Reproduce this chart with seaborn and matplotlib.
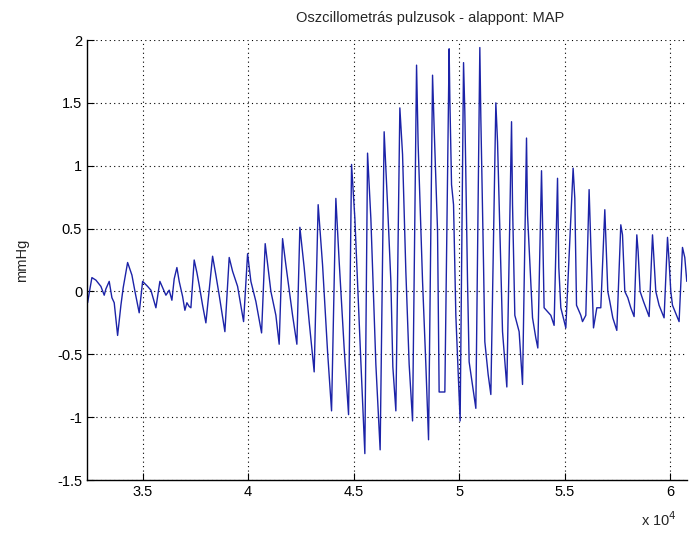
import matplotlib
matplotlib.use("Agg")
import matplotlib.pyplot as plt
import seaborn as sns
import pandas as pd

# Oscillometric pulse waveform: vertices (sample index, mmHg)
sample_index = [
    32389, 32498, 32593, 32782, 33019, 33176, 33256, 33413, 33541, 33650,
    33811, 33967, 34076, 34285, 34489, 34645, 34834, 34996, 35233, 35389,
    35626, 35815, 35943, 36100, 36256, 36384, 36493, 36621, 36730, 36891,
    37000, 37095, 37204, 37285, 37441, 37569, 37678, 37839, 37995, 38313,
    38469, 38626, 38896, 39100, 39261, 39498, 39782, 39972, 40128, 40365,
    40635, 40806, 41076, 41313, 41469, 41630, 41787, 42104, 42308, 42450,
    42654, 42891, 43128, 43317, 43526, 43763, 43952, 44156, 44312, 44549,
    44758, 44900, 45057, 45341, 45530, 45658, 45815, 46052, 46255, 46445,
    46606, 46763, 46857, 47000, 47189, 47317, 47473, 47630, 47791, 47981,
    48056, 48265, 48421, 48549, 48739, 48815, 48976, 49051, 49322, 49525,
    49559, 49639, 49734, 49843, 50047, 50208, 50269, 50397, 50473, 50791,
    50980, 51028, 51156, 51217, 51374, 51502, 51739, 51819, 51975, 52056,
    52260, 52483, 52530, 52639, 52843, 53004, 53193, 53241, 53478, 53634,
    53729, 53904, 53952, 54027, 54345, 54501, 54663, 54724, 54819, 55056,
    55402, 55482, 55563, 55767, 55847, 56004, 56160, 56241, 56368, 56525,
    56714, 56904, 57046, 57141, 57283, 57473, 57662, 57743, 57852, 57994,
    58136, 58293, 58421, 58482, 58577, 58738, 59004, 59165, 59212, 59321,
    59477, 59714, 59876, 59951, 60032, 60112, 60425, 60586, 60695, 60790,
]
pressure_mmHg = [
    -0.09, 0.02, 0.11, 0.09, 0.04, -0.03, 0.02, 0.08, -0.05, -0.09,
    -0.35, -0.11, 0.03, 0.23, 0.13, -0.01, -0.17, 0.08, 0.04, 0.01,
    -0.13, 0.08, 0.03, -0.03, 0.01, -0.07, 0.10, 0.19, 0.08, -0.04,
    -0.15, -0.09, -0.12, -0.13, 0.25, 0.15, 0.05, -0.11, -0.25, 0.28,
    0.13, -0.03, -0.32, 0.27, 0.16, 0.04, -0.24, 0.30, 0.08, -0.08,
    -0.33, 0.38, 0.00, -0.19, -0.42, 0.42, 0.21, -0.19, -0.42, 0.51,
    0.19, -0.24, -0.64, 0.69, 0.21, -0.48, -0.95, 0.74, 0.24, -0.45,
    -0.98, 1.01, 0.58, -0.56, -1.29, 1.10, 0.58, -0.58, -1.26, 1.27,
    0.69, 0.08, -0.60, -0.95, 1.46, 1.09, 0.16, -0.58, -1.03, 1.80,
    1.17, 0.08, -0.58, -1.18, 1.72, 1.30, 0.48, -0.80, -0.80, 1.93,
    1.53, 0.85, 0.69, -0.19, -1.03, 1.82, 1.43, 0.08, -0.56, -0.93,
    1.94, 1.38, 0.21, -0.40, -0.66, -0.82, 1.50, 1.19, 0.21, -0.32,
    -0.76, 1.35, 0.69, -0.19, -0.32, -0.74, 1.22, 0.61, -0.21, -0.37,
    -0.45, 0.96, 0.56, -0.13, -0.19, -0.27, 0.90, 0.19, -0.13, -0.29,
    0.98, 0.74, -0.11, -0.19, -0.24, -0.19, 0.81, 0.37, -0.29, -0.13,
    -0.13, 0.65, 0.00, -0.08, -0.21, -0.31, 0.53, 0.45, 0.00, -0.05,
    -0.13, -0.20, 0.45, 0.32, 0.00, -0.08, -0.20, 0.45, 0.32, 0.00,
    -0.11, -0.21, 0.43, 0.24, 0.00, -0.11, -0.24, 0.35, 0.27, 0.08,
]

x_ticks = [35000, 40000, 45000, 50000, 55000, 60000]
x_tick_labels = ["3.5", "4", "4.5", "5", "5.5", "6"]
y_ticks = [-1.5, -1, -0.5, 0, 0.5, 1, 1.5, 2]
y_tick_labels = ["-1.5", "-1", "-0.5", "0", "0.5", "1", "1.5", "2"]

title_text = "Oszcillometrás pulzusok - alappont: MAP"
y_label = "mmHg"

df = pd.DataFrame({"sample": sample_index, "mmHg": pressure_mmHg})

sns.set_style("white")
plt.rcParams["font.family"] = ["Liberation Sans", "DejaVu Sans"]

fig = plt.figure(figsize=(6.9, 5.42), dpi=100)
ax = fig.add_axes([87 / 690, 1 - 480 / 542, 600 / 690, 440 / 542])

sns.lineplot(data=df, x="sample", y="mmHg", sort=False, estimator=None,
             color="#1c23a8", linewidth=1.0, ax=ax)

ax.set_xlim(32360, 60800)
ax.set_ylim(-1.5, 2)
ax.set_xticks(x_ticks)
ax.set_xticklabels(x_tick_labels)
ax.set_yticks(y_ticks)
ax.set_yticklabels(y_tick_labels)

ax.grid(True, linestyle=(0, (1, 3)), color="black", linewidth=0.8)
ax.set_axisbelow(True)
for side in ["top", "right"]:
    ax.spines[side].set_visible(False)
for side in ["left", "bottom"]:
    ax.spines[side].set_color("black")
    ax.spines[side].set_linewidth(1.0)

ax.tick_params(direction="in", length=5, width=0.8, colors="black",
               labelsize=10.5, left=True, bottom=True, top=False, right=False)
ax.set_xlabel("")
ax.set_ylabel(y_label, fontsize=10.5, labelpad=20)

fig.text(430 / 690, 1 - 18 / 542, title_text, fontsize=10.5,
         ha="center", va="center")
fig.text(0.955, 1 - 520 / 542, "x 10$^{4}$", fontsize=10.5, ha="center", va="center")

fig.savefig("out.png", dpi=100)
